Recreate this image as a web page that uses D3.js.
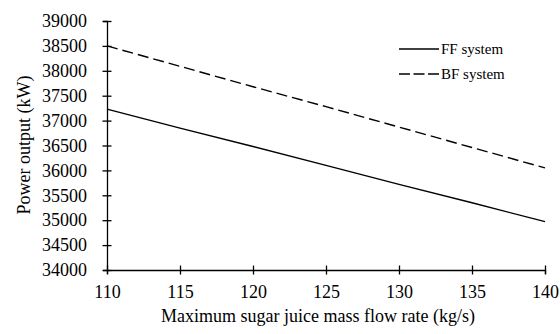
<!DOCTYPE html>
<html>
<head>
<meta charset="utf-8">
<script src="https://cdn.jsdelivr.net/npm/d3@7"></script>
<style>
  body { margin: 0; background: #fff; }
</style>
</head>
<body>
<svg width="560" height="334"></svg>
<script>
// flow rate (kg/s)
const flowRate = [110, 115, 120, 125, 130, 135, 140];
// power output (kW)
const ffPower = [37230, 36850, 36480, 36100, 35720, 35350, 34970];
const bfPower = [38500, 38090, 37680, 37280, 36870, 36460, 36050];
const yTicks = [34000, 34500, 35000, 35500, 36000, 36500, 37000, 37500, 38000, 38500, 39000];
const xTicks = [110, 115, 120, 125, 130, 135, 140];

const svg = d3.select('svg');
const plotLeft = 107, plotRight = 545, plotTop = 21, plotBottom = 270;
const serif = "'Liberation Serif', 'Times New Roman', serif";

const x = d3.scaleLinear().domain([110, 140]).range([plotLeft, plotRight]);
const y = d3.scaleLinear().domain([34000, 39000]).range([plotBottom, plotTop]);

// y axis
const yAxis = svg.append('g').attr('transform', 'translate(' + plotLeft + ',0)')
  .call(d3.axisLeft(y).tickValues(yTicks).tickFormat(d3.format('d')).tickSize(4).tickPadding(16));
yAxis.selectAll('.tick line').attr('x2', 4.5).attr('x1', -4.5);

// x axis
const xAxis = svg.append('g').attr('transform', 'translate(0,' + plotBottom + ')')
  .call(d3.axisBottom(x).tickValues(xTicks).tickSize(4).tickPadding(11));
xAxis.selectAll('.tick line').attr('y1', -4.5).attr('y2', 4.5);

svg.selectAll('.domain').attr('stroke', '#000').attr('stroke-width', 1.3);
svg.selectAll('.tick line').attr('stroke', '#000').attr('stroke-width', 1.3);
svg.selectAll('.tick text').attr('fill', '#000')
  .style('font-family', serif).style('font-size', '18px');

const line = d3.line().x((d, i) => x(flowRate[i])).y(d => y(d));

svg.append('path').datum(ffPower)
  .attr('d', line).attr('fill', 'none').attr('stroke', '#000').attr('stroke-width', 1.4);
svg.append('path').datum(bfPower)
  .attr('d', line).attr('fill', 'none').attr('stroke', '#000').attr('stroke-width', 1.4)
  .attr('stroke-dasharray', '11,5');

// axis titles
svg.append('text').attr('x', 318).attr('y', 322)
  .attr('text-anchor', 'middle').style('font-family', serif).style('font-size', '18px')
  .text('Maximum sugar juice mass flow rate (kg/s)');
svg.append('text').attr('transform', 'translate(30,145) rotate(-90)')
  .attr('text-anchor', 'middle').style('font-family', serif).style('font-size', '18px')
  .text('Power output (kW)');

// legend
const legend = [
  { name: 'FF system', dash: null },
  { name: 'BF system', dash: '11,3.5' }
];
const lg = svg.selectAll('.leg').data(legend).enter().append('g')
  .attr('transform', (d, i) => 'translate(399,' + (49 + i * 25) + ')');
lg.append('line').attr('x1', 0).attr('x2', 40).attr('stroke', '#000').attr('stroke-width', 1.4)
  .attr('stroke-dasharray', d => d.dash);
lg.append('text').attr('x', 42).attr('y', 5)
  .style('font-family', serif).style('font-size', '15px').text(d => d.name);
</script>
</body>
</html>
